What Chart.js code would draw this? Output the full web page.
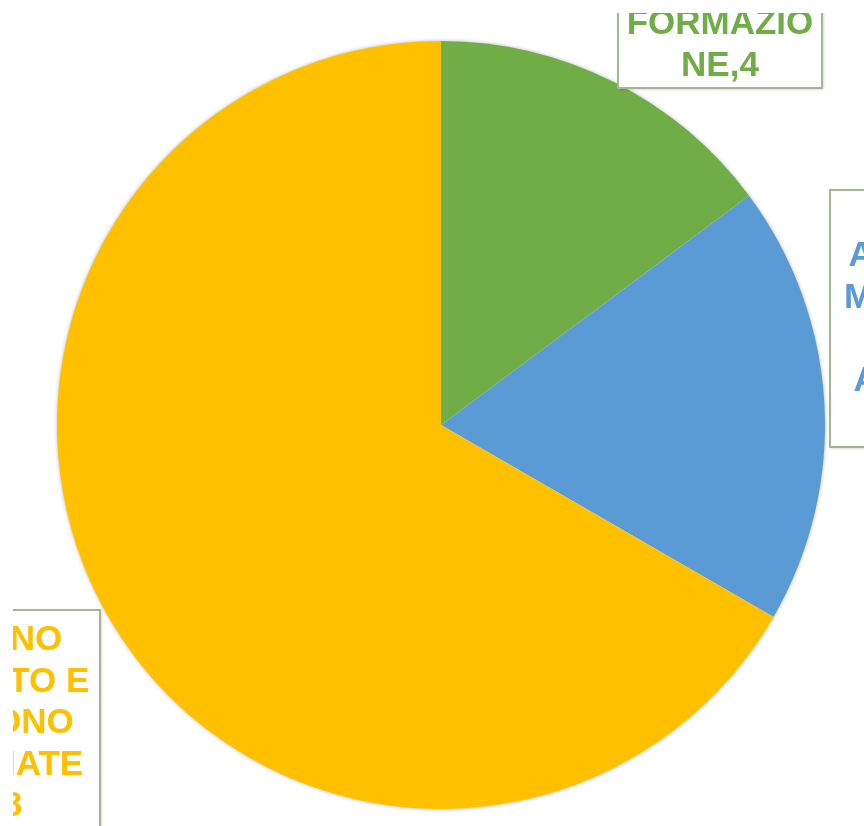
<!DOCTYPE html>
<html>
<head>
<meta charset="utf-8">
<script src="https://cdn.jsdelivr.net/npm/chart.js@4/dist/chart.umd.min.js"></script>
<style>
    body { margin: 0; background: #ffffff; }
    canvas { display: block; }
</style>
</head>
<body>
<canvas id="pieChart" width="864" height="826"></canvas>
<script>
// Chart data
const categories = ['FORMAZIONE', 'ASSENZA MALATTIA E ALTRO', 'HANNO AVVIATO E DEVONO FORMATE'];
const values = [4, 5, 18];
const colors = ['#70AD47', '#5B9BD5', '#FFC000'];

// Wrapped text of the data labels (as it appears in the boxes)
const labelLines = [
    ['FORMAZIO', 'NE,4'],
    ['ASSENZA', 'MALATTIA', 'E', 'ALTRO, 5'],
    ['HANNO', 'AVVIATO E', 'DEVONO', 'FORMATE', ',18']
];

// Label box placement (left, top, width, height, first baseline)
const labelBoxes = [
    { x: 618, y: -20, w: 204, h: 108, base: 34 },
    { x: 830, y: 190, w: 204, h: 257, base: 266 },
    { x: -104, y: 610, w: 204, h: 250, base: 650 }
];

const LINE_HEIGHT = 41.5;

// Draws the boxed data labels, clipped to the plot area like the original
const boxedLabels = {
    id: 'boxedLabels',
    afterDraw(chart) {
        const ctx = chart.ctx;
        ctx.save();
        ctx.beginPath();
        ctx.rect(13, 13, chart.width - 13, chart.height - 13);
        ctx.clip();

        labelBoxes.forEach((box, i) => {
            // box with a soft shadow
            ctx.save();
            ctx.shadowColor = 'rgba(0,0,0,0.25)';
            ctx.shadowBlur = 3;
            ctx.shadowOffsetX = 1;
            ctx.shadowOffsetY = 1;
            ctx.fillStyle = '#ffffff';
            ctx.fillRect(box.x, box.y, box.w, box.h);
            ctx.restore();

            ctx.strokeStyle = '#a4b591';
            ctx.lineWidth = 2;
            ctx.strokeRect(box.x, box.y, box.w, box.h);

            ctx.fillStyle = colors[i];
            ctx.font = 'bold 35px "Liberation Sans", Arial, sans-serif';
            ctx.textAlign = 'center';
            ctx.textBaseline = 'alphabetic';
            const cx = box.x + box.w / 2;
            labelLines[i].forEach((line, j) => {
                ctx.fillText(line, cx, box.base + j * LINE_HEIGHT);
            });
        });
        ctx.restore();
    }
};

// Soft grey edge around the whole pie (drawn once, behind the slices)
const pieShadow = {
    id: 'pieShadow',
    beforeDatasetsDraw(chart) {
        const arc = chart.getDatasetMeta(0).data[0];
        if (!arc) return;
        const ctx = chart.ctx;
        ctx.save();
        ctx.shadowColor = 'rgba(0,0,0,0.35)';
        ctx.shadowBlur = 4;
        ctx.fillStyle = '#ffffff';
        ctx.beginPath();
        ctx.arc(arc.x, arc.y, arc.outerRadius - 0.5, 0, Math.PI * 2);
        ctx.fill();
        ctx.restore();
    }
};

new Chart(document.getElementById('pieChart'), {
    type: 'pie',
    data: {
        labels: categories,
        datasets: [{
            data: values,
            backgroundColor: colors,
            borderWidth: 0
        }]
    },
    options: {
        responsive: false,
        animation: false,
        layout: {
            padding: { left: 57, right: 39, top: 41, bottom: 17 }
        },
        plugins: {
            legend: { display: false },
            tooltip: { enabled: false }
        }
    },
    plugins: [pieShadow, boxedLabels]
});
</script>
</body>
</html>
